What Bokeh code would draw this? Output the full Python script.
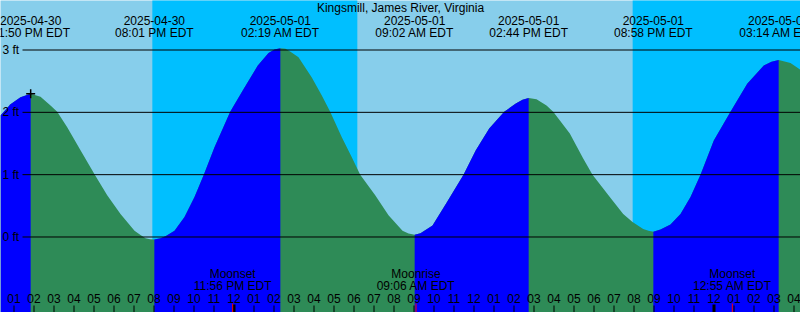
from bokeh.plotting import figure
from bokeh.models import Range1d
from bokeh.embed import file_html
from bokeh.resources import INLINE
from bokeh.core.properties import value
import numpy as np

# ---------------- data ----------------
TITLE = "Kingsmill, James River, Virginia"

# time axis: hours since 2025-04-30 00:00 EDT
extreme_t = [13 + 50/60, 20 + 1/60, 26 + 19/60, 33 + 2/60, 38 + 44/60, 44 + 58/60, 51 + 14/60]
extreme_ft = [2.30, -0.04, 3.03, 0.035, 2.23, 0.085, 2.84]
extreme_date = ["2025-04-30", "2025-04-30", "2025-05-01", "2025-05-01",
                "2025-05-01", "2025-05-01", "2025-05-02"]
extreme_time = ["01:50 PM EDT", "08:01 PM EDT", "02:19 AM EDT", "09:02 AM EDT",
                "02:44 PM EDT", "08:58 PM EDT", "03:14 AM EDT"]

# tide heights (hours, ft)
curve_t = [12.325, 12.825, 13.325, 13.833, 14.325, 14.825, 15.16, 15.66, 16.325,
           17.04, 17.66, 18.325, 19.025, 19.325, 19.575, 19.8, 20.017, 20.325, 20.575,
           21.025, 21.525, 22.025, 22.49, 23.025, 23.81, 24.525, 25.19, 25.725,
           26.025, 26.317, 26.575, 26.825, 27.225, 27.89, 28.39, 28.81, 29.39,
           29.89, 30.31, 31.06, 31.725, 32.425, 32.725, 33.033, 33.325, 33.925,
           34.59, 35.475, 36.09, 36.76, 37.51, 38.09, 38.425, 38.733, 39.125,
           39.625, 39.96, 40.79, 41.46, 41.925, 42.79, 43.46, 43.925, 44.46,
           44.725, 44.967, 45.325, 45.825, 46.325, 46.825, 47.325, 47.99, 48.825,
           49.66, 50.49, 50.875, 51.233, 51.825, 52.325]
curve_ft = [1.95, 2.13, 2.24, 2.30, 2.25, 2.11, 2.01, 1.76, 1.39,
            1.00, 0.67, 0.37, 0.10, 0.03, -0.02, -0.035, -0.04, -0.02, 0.01,
            0.10, 0.32, 0.64, 1.00, 1.44, 2.01, 2.40, 2.75, 2.95,
            3.01, 3.03, 3.02, 2.97, 2.885, 2.56, 2.27, 2.01, 1.60,
            1.28, 1.00, 0.67, 0.35, 0.10, 0.055, 0.035, 0.06, 0.185,
            0.53, 1.00, 1.39, 1.74, 2.01, 2.14, 2.20, 2.23, 2.21,
            2.11, 2.01, 1.66, 1.26, 1.00, 0.64, 0.37, 0.24, 0.13,
            0.10, 0.085, 0.12, 0.20, 0.37, 0.64, 1.00, 1.55, 2.01,
            2.46, 2.75, 2.81, 2.84, 2.79, 2.68]

sunset_t = [19 + 55/60, 43 + 56/60]
sunrise_t = [30 + 10/60]

moon_t = [23 + 56/60, 33 + 6/60, 48 + 55/60]
moon_name = ["Moonset", "Moonrise", "Moonset"]
moon_time = ["11:56 PM EDT", "09:06 AM EDT", "12:55 AM EDT"]

level_ft = [0, 1, 2, 3]
level_label = ["0 ft", "1 ft", "2 ft", "3 ft"]

hour_t = list(range(13, 53))
hour_label = ["%02d" % ((h - 1) % 12 + 1) for h in hour_t]
midnight_t = [24, 48]

# ---------------- layout ----------------
W, H = 800, 312
PX_PER_H = 20.0
PX_PER_FT = 62.33
T0 = 13 - 13.5 / PX_PER_H
T1 = T0 + W / PX_PER_H
Y_TOP = 3 + 49.5 / PX_PER_FT
Y_BOT = Y_TOP - H / PX_PER_FT


def px_x(px):
    return T0 + px / PX_PER_H


def px_y(py):
    return Y_TOP - py / PX_PER_FT


DAY = "#87CEEB"
NIGHT = "#00BFFF"
RISE = "#0000FF"
FALL = "#2E8B57"
FONT = value("Liberation Sans")
FS = "12px"

p = figure(width=W, height=H, x_range=Range1d(T0, T1), y_range=Range1d(Y_BOT, Y_TOP),
           output_backend="svg", toolbar_location=None, min_border=0,
           x_axis_location=None, y_axis_location=None,
           background_fill_color=DAY, border_fill_color=DAY, outline_line_color=None)
p.grid.visible = False

# night bands
night_left = [sunset_t[0], sunset_t[1]]
night_right = [sunrise_t[0], T1 + 1]
p.quad(left=night_left, right=night_right, bottom=Y_BOT - 1, top=Y_TOP + 1,
       fill_color=NIGHT, line_color=None)

# tide fill: whole curve as ebb, flood stretches painted over it
t = np.array(curve_t)
h = np.array(curve_ft)
p.varea(x=t, y1=Y_BOT - 1, y2=h, fill_color=FALL)
idx = [0] + [int(np.argmin(np.abs(t - e))) for e in extreme_t] + [len(t) - 1]
for i0, i1 in zip(idx[:-1], idx[1:]):
    if h[i1] > h[i0]:
        p.varea(x=t[i0:i1 + 1], y1=Y_BOT - 1, y2=h[i0:i1 + 1], fill_color=RISE)

# level lines and labels
p.segment(x0=px_x(22), y0=level_ft, x1=T1 + 1, y1=level_ft, line_color="black", line_width=1)
p.text(x=px_x(2), y=level_ft, text=level_label, text_align="left", text_baseline="middle",
       text_font=FONT, text_font_size=FS, text_color="black")

# high tide marker
p.scatter(x=[extreme_t[0]], y=[extreme_ft[0]], marker="cross", size=9,
          line_color="black", line_width=1.5)

# title and extreme labels
p.text(x=[(T0 + T1) / 2], y=[px_y(7.5)], text=[TITLE], text_align="center",
       text_baseline="middle", text_font=FONT, text_font_size=FS, text_color="black")
p.text(x=extreme_t, y=px_y(20), text=extreme_date, text_align="center",
       text_baseline="middle", text_font=FONT, text_font_size=FS, text_color="black")
p.text(x=extreme_t, y=px_y(32), text=extreme_time, text_align="center",
       text_baseline="middle", text_font=FONT, text_font_size=FS, text_color="black")

# moon labels
p.text(x=moon_t, y=px_y(273.5), text=moon_name, text_align="center",
       text_baseline="middle", text_font=FONT, text_font_size=FS, text_color="black")
p.text(x=moon_t, y=px_y(285.5), text=moon_time, text_align="center",
       text_baseline="middle", text_font=FONT, text_font_size=FS, text_color="black")

# hour labels and ticks
p.text(x=hour_t, y=px_y(297.5), text=hour_label, text_align="center",
       text_baseline="middle", text_font=FONT, text_font_size=FS, text_color="black")
p.segment(x0=hour_t, y0=px_y(305), x1=hour_t, y1=Y_BOT - 1, line_color="black", line_width=1)
p.segment(x0=midnight_t, y0=px_y(304), x1=midnight_t, y1=Y_BOT - 1, line_color="black", line_width=3)
p.segment(x0=moon_t, y0=px_y(303), x1=moon_t, y1=Y_BOT - 1, line_color="red", line_width=1)

open("out.html", "w").write(file_html(p, INLINE))
